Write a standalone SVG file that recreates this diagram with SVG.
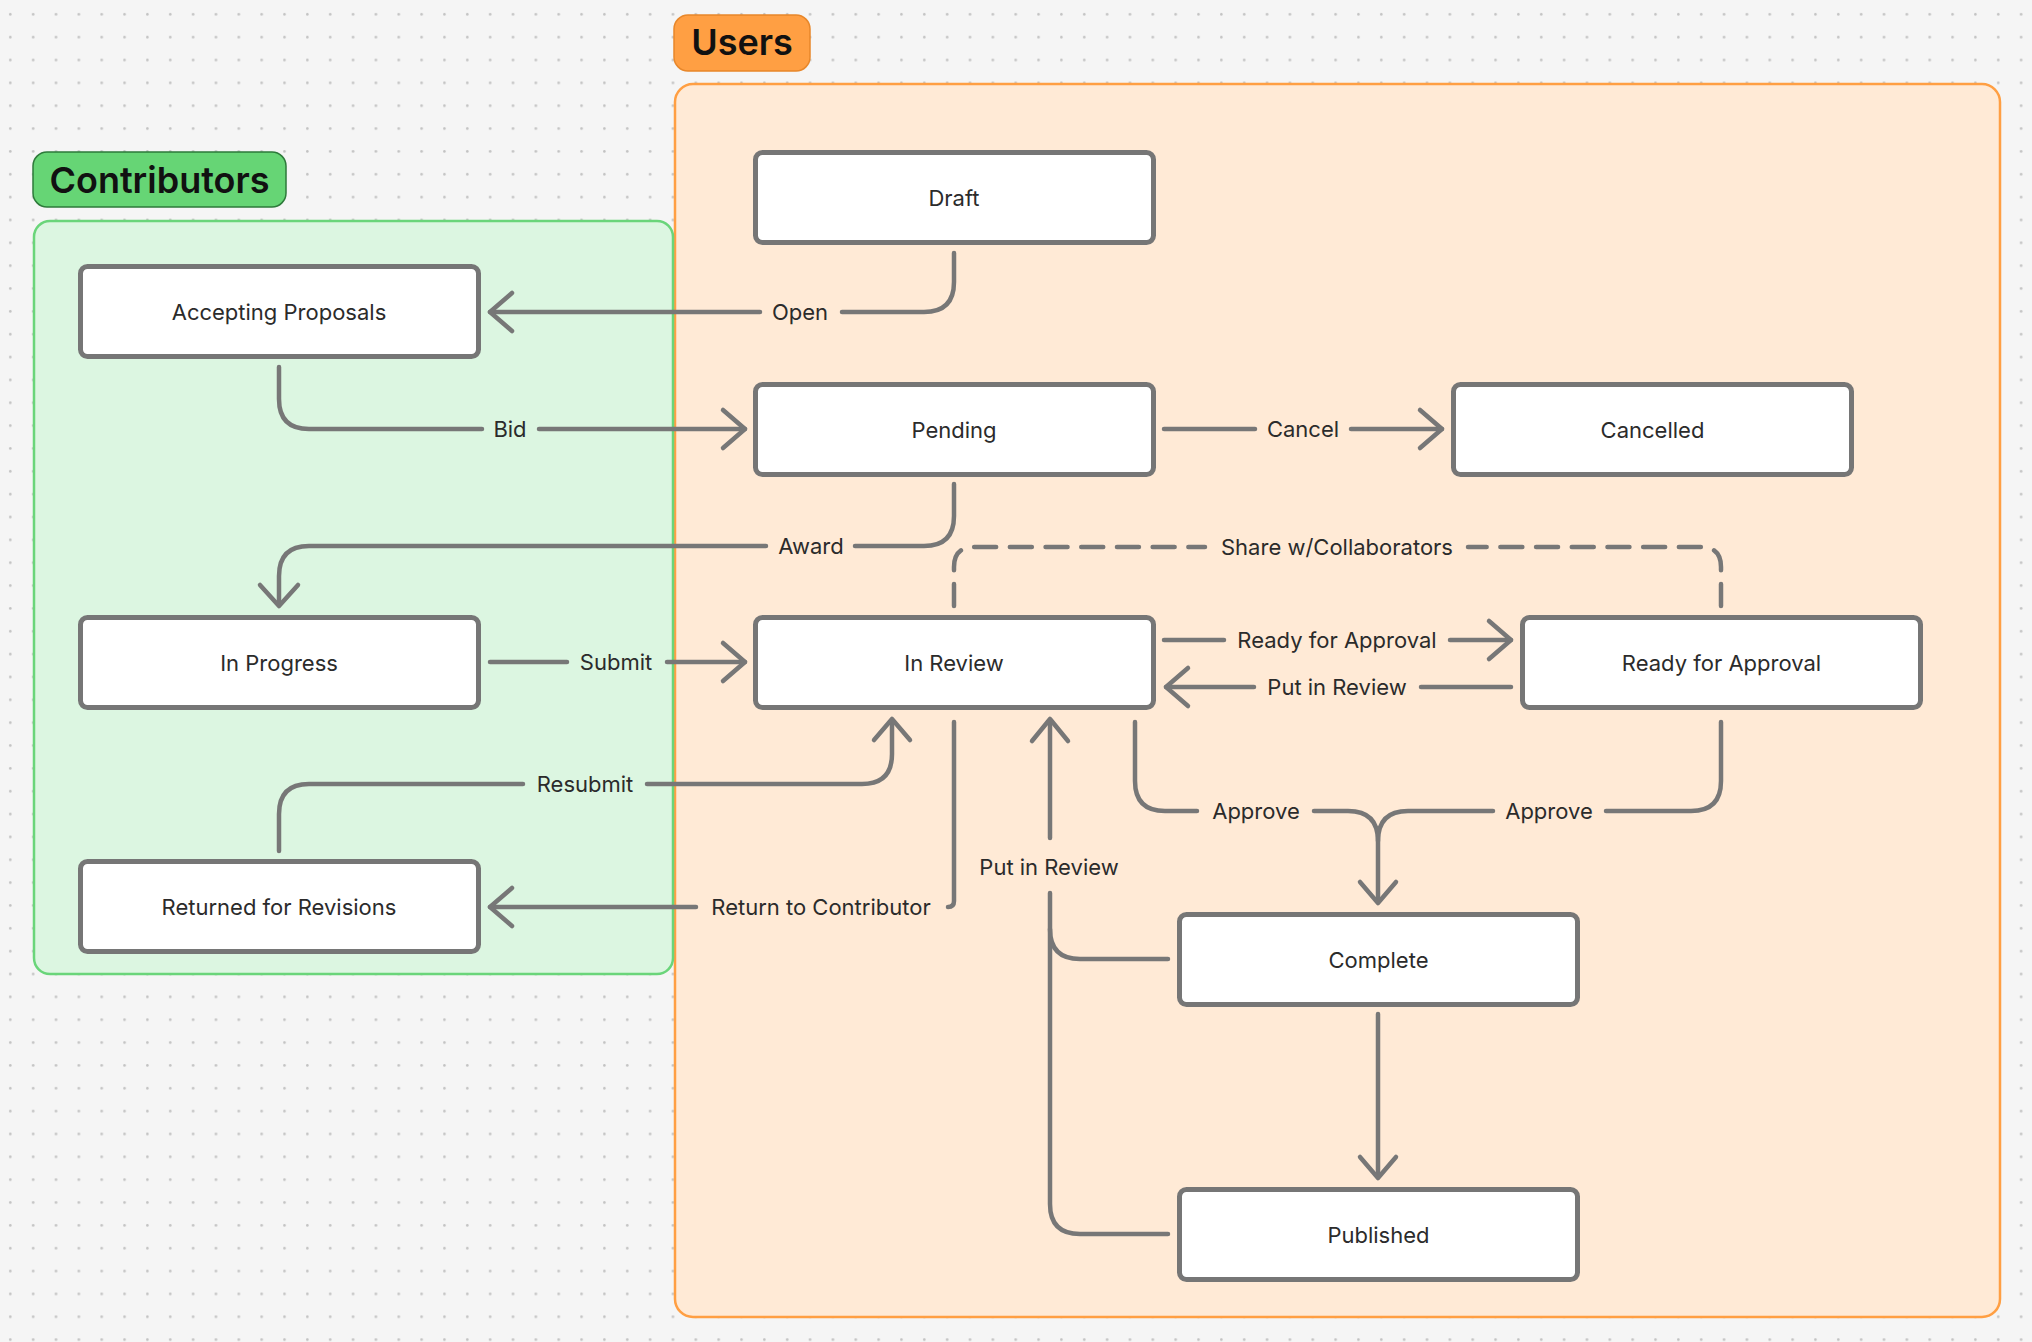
<svg xmlns="http://www.w3.org/2000/svg" width="2032" height="1342" viewBox="0 0 2032 1342">
<defs>
<pattern id="dots" x="0" y="0" width="22.85" height="22.85" patternUnits="userSpaceOnUse">
<circle cx="10.3" cy="14.3" r="1.3" fill="#C2C2C2"/>
</pattern>
<style>
.node rect{fill:#FFFFFF;stroke:#767676;stroke-width:5}
.node text{font-family:Inter,"Noto Sans",sans-serif;font-size:22px;fill:#2B2B2B;text-anchor:middle}
.conn path{fill:none;stroke:#777777;stroke-width:4.5;stroke-linecap:round;stroke-linejoin:round}
.conn path.dash{stroke-dasharray:22 13.7}
.lbl{font-family:Inter,"Noto Sans",sans-serif;font-size:22px;fill:#2B2B2B;text-anchor:middle}
.title{font-family:Inter,"Noto Sans",sans-serif;font-size:36px;font-weight:600;fill:#111111;text-anchor:middle}
</style>
</defs>
<rect x="0" y="0" width="2032" height="1342" fill="#F5F5F5"/>
<rect x="0" y="0" width="2032" height="1342" fill="url(#dots)"/>

<g id="users-section">
<rect x="675" y="84" width="1325" height="1233" rx="18" fill="#FFEAD6" stroke="#FF9F43" stroke-width="2.5"/>
<rect x="674" y="15" width="136" height="56" rx="14" fill="#FF9F43" stroke="#E8872A" stroke-width="1.5"/>
<text class="title" x="742" y="55">Users</text>
</g>
<g id="contributors-section">
<rect x="34" y="221" width="639" height="753" rx="16" fill="#DCF6E1" stroke="#6AD57A" stroke-width="2.5"/>
<rect x="33" y="152" width="253" height="55" rx="14" fill="#66D575" stroke="#2D7A3A" stroke-width="1.5"/>
<text class="title" x="159.5" y="193">Contributors</text>
</g>

<g id="connectors" class="conn">
<!-- Open -->
<path d="M954,253 V282 Q954,312 924,312 H842"/>
<path d="M760,312 H490"/>
<path d="M512,293 L490,312 L512,331"/>
<!-- Bid -->
<path d="M279,367 V399 Q279,429 309,429 H482"/>
<path d="M539,429 H745"/>
<path d="M723,410 L745,429 L723,448"/>
<!-- Cancel -->
<path d="M1164,429 H1255"/>
<path d="M1351,429 H1442"/>
<path d="M1420,410 L1442,429 L1420,448"/>
<!-- Award -->
<path d="M954,484 V516 Q954,546 924,546 H855"/>
<path d="M766,546 H309 Q279,546 279,576 V605"/>
<path d="M260,585 L279,606 L298,585"/>
<!-- Submit -->
<path d="M490,662 H567"/>
<path d="M667,662 H745"/>
<path d="M723,643 L745,662 L723,681"/>
<!-- Resubmit -->
<path d="M279,851 V814 Q279,784 309,784 H523"/>
<path d="M647,784 H862 Q892,784 892,754 V720"/>
<path d="M874,740 L892,719 L910,740"/>
<!-- Return to Contributor -->
<path d="M954,722 V901 Q954,907 948,907"/>
<path d="M696,907 H490"/>
<path d="M512,888 L490,907 L512,926"/>
<!-- Ready for Approval -->
<path d="M1164,640 H1224"/>
<path d="M1450,640 H1511"/>
<path d="M1489,621 L1511,640 L1489,659"/>
<!-- Put in Review (RFA -> In Review) -->
<path d="M1511,687 H1421"/>
<path d="M1254,687 H1166"/>
<path d="M1188,668 L1166,687 L1188,706"/>
<!-- Share w/Collaborators -->
<path class="dash" d="M954,606 V567 Q954,547 974,547 H1205"/>
<path class="dash" d="M1721,606 V567 Q1721,547 1701,547 H1468"/>
<!-- Approve left -->
<path d="M1135,722 V781 Q1135,811 1165,811 H1197"/>
<path d="M1314,811 H1348 Q1378,811 1378,841 V902"/>
<!-- Approve right -->
<path d="M1721,722 V781 Q1721,811 1691,811 H1606"/>
<path d="M1493,811 H1408 Q1378,811 1378,841"/>
<path d="M1360,882 L1378,903 L1396,882"/>
<!-- Complete -> Published -->
<path d="M1378,1014 V1177"/>
<path d="M1360,1157 L1378,1178 L1396,1157"/>
<!-- Put in Review (Complete/Published -> In Review) -->
<path d="M1168,959 H1080 Q1050,959 1050,929"/>
<path d="M1168,1234 H1080 Q1050,1234 1050,1204 V893"/>
<path d="M1050,838 V720"/>
<path d="M1032,741 L1050,719 L1068,741"/>

<text class="lbl" x="800" y="320">Open</text>
<text class="lbl" x="510" y="437">Bid</text>
<text class="lbl" x="1303" y="437">Cancel</text>
<text class="lbl" x="811" y="554">Award</text>
<text class="lbl" x="616" y="670">Submit</text>
<text class="lbl" x="585" y="792">Resubmit</text>
<text class="lbl" x="821" y="915">Return to Contributor</text>
<text class="lbl" x="1337" y="648">Ready for Approval</text>
<text class="lbl" x="1337" y="695">Put in Review</text>
<text class="lbl" x="1337" y="555">Share w/Collaborators</text>
<text class="lbl" x="1256" y="819">Approve</text>
<text class="lbl" x="1549" y="819">Approve</text>
<text class="lbl" x="1049" y="875">Put in Review</text>
</g>

<g id="node-draft" class="node"><rect x="755.5" y="152.5" width="398" height="90" rx="7"/><text x="954" y="205.5">Draft</text></g>
<g id="node-accepting-proposals" class="node"><rect x="80.5" y="266.5" width="398" height="90" rx="7"/><text x="279" y="319.5">Accepting Proposals</text></g>
<g id="node-pending" class="node"><rect x="755.5" y="384.5" width="398" height="90" rx="7"/><text x="954" y="437.5">Pending</text></g>
<g id="node-cancelled" class="node"><rect x="1453.5" y="384.5" width="398" height="90" rx="7"/><text x="1652.5" y="437.5">Cancelled</text></g>
<g id="node-in-progress" class="node"><rect x="80.5" y="617.5" width="398" height="90" rx="7"/><text x="279" y="670.5">In Progress</text></g>
<g id="node-in-review" class="node"><rect x="755.5" y="617.5" width="398" height="90" rx="7"/><text x="954" y="670.5">In Review</text></g>
<g id="node-ready-for-approval" class="node"><rect x="1522.5" y="617.5" width="398" height="90" rx="7"/><text x="1721.5" y="670.5">Ready for Approval</text></g>
<g id="node-returned" class="node"><rect x="80.5" y="861.5" width="398" height="90" rx="7"/><text x="279" y="914.5">Returned for Revisions</text></g>
<g id="node-complete" class="node"><rect x="1179.5" y="914.5" width="398" height="90" rx="7"/><text x="1378.5" y="967.5">Complete</text></g>
<g id="node-published" class="node"><rect x="1179.5" y="1189.5" width="398" height="90" rx="7"/><text x="1378.5" y="1242.5">Published</text></g>
</svg>
